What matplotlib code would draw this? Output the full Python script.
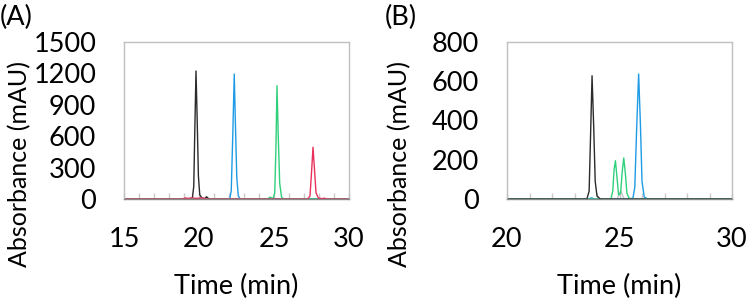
import matplotlib.pyplot as plt
from matplotlib.ticker import MultipleLocator

plt.rcParams['font.family'] = ['Lato', 'DejaVu Sans']

# ---- panel A traces (time in min, absorbance in mAU) ----
a_black_t = [15, 18.5, 19.55, 19.65, 19.72, 19.8, 19.88, 19.96, 20.05, 20.2, 20.4, 20.5, 20.6, 20.75, 30]
a_black_y = [0, 0, 0, 120, 650, 1223, 750, 220, 40, 8, 5, 22, 8, 0, 0]
a_blue_t = [15, 22.05, 22.15, 22.25, 22.35, 22.43, 22.52, 22.62, 22.75, 30]
a_blue_y = [0, 0, 80, 600, 1194, 700, 200, 30, 0, 0]
a_green_t = [15, 24.5, 24.65, 24.75, 24.85, 24.95, 25.05, 25.13, 25.2, 25.28, 25.38, 25.5, 25.65, 30]
a_green_y = [0, 0, 8, 18, 8, 10, 60, 500, 1083, 620, 150, 20, 0, 0]
a_red_t = [15, 18.9, 19.1, 19.3, 19.5, 19.8, 20.2, 20.5, 27.25, 27.4, 27.5, 27.6, 27.7, 27.8, 27.95, 28.2, 28.35, 28.5, 30]
a_red_y = [0, 0, 10, 5, 12, 6, 10, 0, 0, 30, 250, 494, 280, 60, 10, 3, 8, 0, 0]

# ---- panel B traces ----
b_black_t = [20, 23.55, 23.65, 23.72, 23.78, 23.85, 23.92, 24.0, 24.15, 30]
b_black_y = [0, 0, 40, 350, 628, 380, 90, 15, 0, 0]
b_green_t = [20, 24.62, 24.7, 24.76, 24.82, 24.88, 24.96, 25.05, 25.12, 25.19, 25.26, 25.33, 25.42, 25.55, 30]
b_green_y = [0, 0, 40, 150, 195, 120, 20, 30, 140, 209, 130, 30, 5, 0, 0]
b_gray_t = [20, 24.9, 25.0, 25.05, 25.12, 25.2, 30]
b_gray_y = [0, 0, 30, 40, 25, 0, 0]
b_blue_t = [20, 23.6, 23.75, 23.9, 25.5, 25.6, 25.68, 25.76, 25.85, 25.93, 26.0, 26.1, 26.25, 30]
b_blue_y = [0, 0, 6, 0, 0, 6, 60, 350, 637, 380, 90, 10, 0, 0]

black = '#2b2b2b'
blue = '#1f9be6'
green = '#2fd07c'
red = '#e8305a'
lgray = '#c8c8c8'
FS = 19.5

W, H = 749, 304
fig = plt.figure(figsize=(W / 100, H / 100), dpi=100)

def px(l, t, r, b):
    return [l / W, 1 - b / H, (r - l) / W, (b - t) / H]

def style(ax, xmin, xmax, ymax, ystep):
    ax.set_xlim(xmin, xmax)
    ax.set_ylim(0, ymax)
    ax.xaxis.set_major_locator(MultipleLocator(5))
    ax.xaxis.set_minor_locator(MultipleLocator(1))
    ax.yaxis.set_major_locator(MultipleLocator(ystep))
    for s in ax.spines.values():
        s.set_color('#c0c0c0')
        s.set_linewidth(1)
    ax.spines['bottom'].set_color('#8a8a8a')
    ax.tick_params(axis='x', which='both', direction='in', length=4.5, width=1,
                   color='#c8c8c8', pad=20, labelsize=FS)
    ax.tick_params(axis='y', length=0, pad=20, labelsize=FS)
    ax.set_xlabel('Time (min)', fontsize=FS, labelpad=16)

axA = fig.add_axes(px(124, 42, 349, 199))
axA.plot(a_black_t, a_black_y, color=black, lw=1)
axA.plot(a_blue_t, a_blue_y, color=blue, lw=1)
axA.plot(a_green_t, a_green_y, color=green, lw=1)
axA.plot(a_red_t, a_red_y, color=red, lw=1)
style(axA, 15, 30, 1500, 300)
axA.set_ylabel('Absorbance (mAU)', fontsize=18)
axA.yaxis.set_label_coords(-0.41, 0.22)

axB = fig.add_axes(px(507, 42, 732, 199))
axB.plot(b_gray_t, b_gray_y, color=lgray, lw=1)
axB.plot(b_blue_t, b_blue_y, color=blue, lw=1)
axB.plot(b_green_t, b_green_y, color=green, lw=1)
axB.plot(b_black_t, b_black_y, color=black, lw=1)
style(axB, 20, 30, 800, 200)
axB.set_ylabel('Absorbance (mAU)', fontsize=18)
axB.yaxis.set_label_coords(-0.427, 0.22)

fig.text(0, 1 - 17 / H, '(A)', fontsize=FS, va='center', ha='left')
fig.text(385 / W, 1 - 17 / H, '(B)', fontsize=FS, va='center', ha='left')

fig.savefig('out.png', dpi=100)
